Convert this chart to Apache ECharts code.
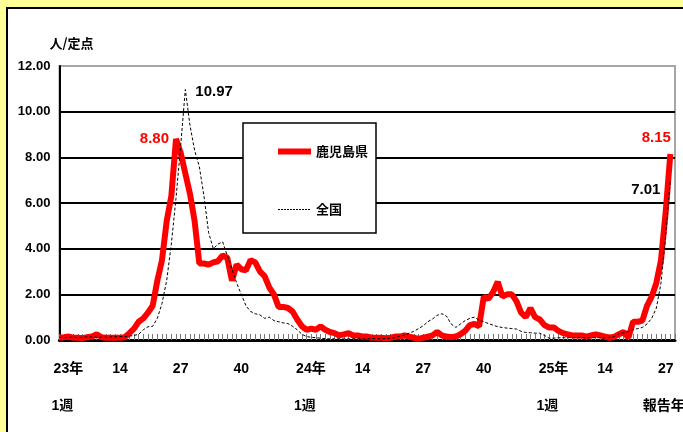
<!DOCTYPE html>
<html>
<head>
<meta charset="utf-8">
<script src="https://cdn.jsdelivr.net/npm/echarts@6/dist/echarts.min.js"></script>
<style>
html, body { margin: 0; padding: 0; background: #ffff99; overflow: hidden; }
#panel { position: absolute; left: 6px; top: 7px; width: 800px; height: 600px; background: #fff; border: 2px solid #000; }
#main { position: absolute; left: 0; top: 0; width: 683px; height: 432px; }
</style>
</head>
<body>
<div id="panel"></div>
<div id="main"></div>
<script>
'use strict'
// 報告年・週数
var years = ['23', '24', '25']
var weeksPerYear = [52, 52, 29]
var tickLabels = ['23年\n1週', '14', '27', '40', '24年\n1週', '14', '27', '40', '25年\n1週', '14', '27\n報告年週']

// 定点当たり報告数
var kagoshima = [
	0.1, 0.12, 0.15, 0.1, 0.1, 0.08, 0.12, 0.15, 0.25, 0.12,
	0.1, 0.1, 0.1, 0.1, 0.12, 0.3, 0.5, 0.8, 0.95, 1.2,
	1.5, 2.6, 3.5, 5.2, 6.3, 8.8, 8.2, 7.3, 6.4, 5.2,
	3.35, 3.35, 3.3, 3.4, 3.45, 3.7, 3.6, 2.6, 3.3, 3.1,
	3.05, 3.5, 3.4, 3.0, 2.8, 2.3, 2.0, 1.45, 1.45, 1.4,
	1.25, 0.9, 0.6, 0.45, 0.5, 0.45, 0.6, 0.45, 0.35, 0.3,
	0.2, 0.25, 0.3, 0.2, 0.2, 0.15, 0.15, 0.1, 0.1, 0.1,
	0.08, 0.1, 0.15, 0.15, 0.2, 0.15, 0.1, 0.05, 0.1, 0.15,
	0.2, 0.35, 0.2, 0.15, 0.12, 0.15, 0.25, 0.4, 0.65, 0.7,
	0.6, 1.9, 1.8, 2.1, 2.55, 1.9, 2.0, 2.0, 1.7, 1.2,
	1.0, 1.4, 1.0, 0.9, 0.65, 0.55, 0.55, 0.4, 0.3, 0.25,
	0.2, 0.2, 0.2, 0.15, 0.2, 0.25, 0.2, 0.15, 0.1, 0.15,
	0.25, 0.35, 0.1, 0.8, 0.8, 0.85, 1.5, 1.9, 2.5, 3.5,
	5.6, 8.15
]
var zenkoku = [
	0.12, 0.1, 0.12, 0.13, 0.1, 0.12, 0.14, 0.13, 0.12, 0.12,
	0.12, 0.13, 0.14, 0.15, 0.15, 0.17, 0.2, 0.25, 0.45, 0.58,
	0.6, 0.95, 1.6, 2.6, 4.2, 6.2, 8.5, 10.97, 9.4, 8.3,
	7.6, 6.3, 4.7, 4.0, 4.2, 4.3, 3.7, 3.1, 2.5, 2.0,
	1.5, 1.25, 1.15, 1.1, 0.95, 1.0, 0.85, 0.8, 0.75, 0.72,
	0.6, 0.45, 0.25, 0.15, 0.12, 0.1, 0.08, 0.06, 0.05, 0.05,
	0.05, 0.05, 0.05, 0.05, 0.05, 0.05, 0.05, 0.06, 0.06, 0.05,
	0.06, 0.08, 0.1, 0.17, 0.22, 0.3, 0.38, 0.5, 0.62, 0.8,
	0.92, 1.08, 1.15, 1.05, 0.7, 0.55, 0.7, 0.85, 0.95, 1.0,
	0.87, 0.8, 0.72, 0.65, 0.58, 0.55, 0.52, 0.5, 0.48, 0.38,
	0.33, 0.32, 0.3, 0.3, 0.2, 0.08, 0.08, 0.1, 0.1, 0.1,
	0.1, 0.1, 0.1, 0.1, 0.1, 0.1, 0.1, 0.1, 0.12, 0.15,
	0.28, 0.32, 0.38, 0.45, 0.5, 0.55, 0.7, 0.95, 1.4, 2.5,
	4.6, 7.01
]

var numFont = "'Liberation Sans', Arial, 'Noto Sans CJK JP', sans-serif"
var cjkFont = "'Noto Sans CJK JP', sans-serif"

var categories = []
years.forEach(function (y, k) {
	for (var w = 1; w <= weeksPerYear[k]; w++) categories.push(y + '年' + w + '週')
})

// 値ラベルを付ける点
function withLabels(values, labels) {
	return values.map(function (v, i) {
		return labels[i] ? { value: v, label: labels[i] } : v
	})
}
var redLabel = { show: true, color: '#ff0000', fontFamily: numFont, fontWeight: 'bold', fontSize: 15, formatter: function (p) { return p.value.toFixed(2) } }
var blackLabel = { show: true, color: '#000', fontFamily: numFont, fontWeight: 'bold', fontSize: 15, formatter: function (p) { return p.value.toFixed(2) } }

var kagoshimaData = withLabels(kagoshima, {
	25: Object.assign({ position: 'left', distance: 7 }, redLabel),
	131: Object.assign({ position: 'top', distance: 5, offset: [-14, -4] }, redLabel)
})
var zenkokuData = withLabels(zenkoku, {
	27: Object.assign({ position: 'right', distance: 10, offset: [0, 2] }, blackLabel),
	131: Object.assign({ position: 'left', distance: 10, offset: [0, 10] }, blackLabel)
})

// 2段の目盛ラベルは左寄せ気味に
function xLabel(v, i) {
	var t = tickLabels[i / 13]
	var parts = t.split('\n')
	if (parts.length === 1) return t
	if (parts[1] === '報告年週') return '{a|' + parts[0] + '}\n{r|' + parts[1] + '}'
	return '{y|' + parts[0] + '}\n{w|' + parts[1] + '}'
}

var myChart = echarts.init(document.getElementById('main'))
var option = {
	animation: false,
	grid: { left: 59.4, right: 8, top: 66, bottom: 92, outerBoundsMode: 'none', containLabel: false, show: true, borderColor: '#a6a6a6', borderWidth: 2, backgroundColor: '#fff' },
	legend: {
		orient: 'vertical', left: 243, top: 123,
		padding: [22, 8, 17, 32],
		itemGap: 45, itemWidth: 33, itemHeight: 14,
		backgroundColor: '#fff', borderColor: '#000', borderWidth: 1.5, borderRadius: 0,
		itemStyle: { opacity: 0 },
		textStyle: { fontFamily: cjkFont, fontWeight: 'bold', fontSize: 13, color: '#000' },
		data: [
			{ name: '鹿児島県', lineStyle: { width: 6, color: '#ff0000' } },
			{ name: '全国', lineStyle: { width: 1, color: '#000', type: [2, 1] } }
		]
	},
	xAxis: {
		type: 'category', data: categories, boundaryGap: false,
		axisLine: { lineStyle: { color: '#000', width: 3 } },
		axisTick: { inside: true, interval: 0, length: 6, lineStyle: { color: '#777', width: 1 } },
		axisLabel: {
			interval: function (i) { return i % 13 === 0 && i / 13 < tickLabels.length },
			formatter: xLabel,
			margin: 11, lineHeight: 37,
			fontFamily: numFont, fontWeight: 'bold', fontSize: 14, color: '#000',
			rich: {
				y: { padding: [0, 0, 0, 18] },
				w: { padding: [0, 0, 0, 6] },
				a: {},
				r: { padding: [0, 0, 0, 10] }
			}
		},
		splitLine: { show: false }
	},
	yAxis: {
		type: 'value', min: 0, max: 12, interval: 2,
		name: '人/定点', nameLocation: 'end', nameGap: 16,
		nameTextStyle: { fontFamily: cjkFont, fontWeight: 'bold', fontSize: 13, color: '#000', align: 'center', padding: [0, 0, 0, 24] },
		axisLine: { show: true, lineStyle: { color: '#000', width: 2 } },
		axisTick: { show: false },
		axisLabel: {
			formatter: function (v) { return v.toFixed(2) },
			margin: 9, padding: [8, 0, 0, 0], verticalAlign: 'middle',
			fontFamily: numFont, fontWeight: 'bold', fontSize: 13, color: '#000'
		},
		splitLine: { lineStyle: { color: ['#000', '#000', '#000', '#000', '#000', '#000', '#a6a6a6'], width: 2 } }
	},
	series: [
		{
			name: '鹿児島県', type: 'line', data: kagoshimaData,
			symbol: 'circle', symbolSize: 0, showAllSymbol: true,
			lineStyle: { color: '#ff0000', width: 6 }, itemStyle: { color: '#ff0000' },
			z: 2
		},
		{
			name: '全国', type: 'line', data: zenkokuData,
			symbol: 'circle', symbolSize: 0, showAllSymbol: true,
			lineStyle: { color: '#000', width: 1, type: [3, 2] }, itemStyle: { color: '#000' },
			z: 3
		}
	]
}
myChart.setOption(option)
</script>
</body>
</html>
